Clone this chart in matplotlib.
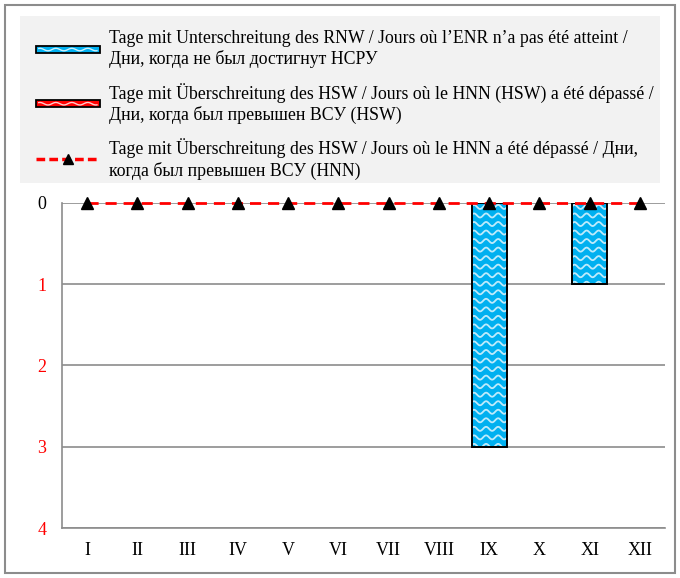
import matplotlib.pyplot as plt
import matplotlib.patches as mpatches
from matplotlib.lines import Line2D
from matplotlib.legend_handler import HandlerBase
import numpy as np

# Data
months = ['I', 'II', 'III', 'IV', 'V', 'VI', 'VII', 'VIII', 'IX', 'X', 'XI', 'XII']
rnw_days = [0, 0, 0, 0, 0, 0, 0, 0, 3, 0, 1, 0]
hsw_days = [0, 0, 0, 0, 0, 0, 0, 0, 0, 0, 0, 0]
hnn_days = [0, 0, 0, 0, 0, 0, 0, 0, 0, 0, 0, 0]
y_ticks = [0, 1, 2, 3, 4]

labels = [
    'Tage mit Unterschreitung des RNW / Jours où l\u2019ENR n\u2019a pas été atteint /\n'
    'Дни, когда не был достигнут НСРУ',
    'Tage mit Überschreitung des HSW / Jours où le HNN (HSW) a été dépassé /\n'
    'Дни, когда был превышен ВСУ (HSW)',
    'Tage mit Überschreitung des HSW / Jours où le HNN a été dépassé / Дни,\n'
    'когда был превышен ВСУ (HNN)',
]

BLUE = '#00B0F0'
RED = '#FF0000'
GRID = '#8C8C8C'
W, H = 680, 578

plt.rcParams['font.family'] = ['Liberation Serif', 'DejaVu Serif']


class WavyHandler(HandlerBase):
    def create_artists(self, legend, orig, xd, yd, w, h, fontsize, trans):
        rect = mpatches.Rectangle((-xd, -yd + h * 0.2), w, h * 0.6,
                                  facecolor=orig.get_facecolor(),
                                  edgecolor='black', lw=1.3, transform=trans)
        xs = np.linspace(-xd + 2, -xd + w - 2, 80)
        ys = -yd + h * 0.5 + h * 0.1 * np.sin((xs + xd) / w * 2 * np.pi * 4)
        wave = Line2D(xs, ys, color='white', lw=1.0, alpha=0.8, transform=trans)
        return [rect, wave]


def wavy_bar(ax, x, height, width, color):
    if height <= 0:
        return
    ax.bar(x, height, width=width, color=color, lw=0, zorder=3)
    clip = mpatches.Rectangle((x - width / 2, 0), width, height, transform=ax.transData)
    xs = np.linspace(x - width / 2, x + width / 2, 60)
    for y0 in np.arange(0.05, height, 0.105):
        ys = y0 + 0.025 * np.sin((xs - x) / 0.24 * 2 * np.pi)
        ln, = ax.plot(xs, ys, color='white', lw=1.3, alpha=0.75, zorder=3.5)
        ln.set_clip_path(clip)
    ax.bar(x, height, width=width, fill=False, edgecolor='black', lw=1.4, zorder=4)


fig = plt.figure(figsize=(6.8, 5.78), dpi=100)
ax = fig.add_axes([0.091, 0.0865, 0.887, 0.5625])

x = np.arange(len(months))
for xi, v in zip(x, rnw_days):
    wavy_bar(ax, xi, v, 0.7, BLUE)
for xi, v in zip(x, hsw_days):
    wavy_bar(ax, xi, v, 0.7, RED)
ax.plot(x, hnn_days, color=RED, lw=2, ls=(0, (4, 2.5)), marker='^',
        markersize=8, markerfacecolor='black', markeredgecolor='black',
        clip_on=False, zorder=5)

ax.set_xlim(-0.5, len(months) - 0.5)
ax.set_ylim(4, 0)
ax.set_yticks(y_ticks)
ax.set_xticks(x)
ax.set_xticklabels(months, fontsize=13)
ax.set_yticklabels([str(t) for t in y_ticks], fontsize=13)
for i, lab in enumerate(ax.get_yticklabels()):
    lab.set_color('black' if i == 0 else RED)
ax.tick_params(axis='y', length=0, pad=11)
ax.tick_params(axis='x', length=0, pad=10)
ax.grid(axis='y', color=GRID, lw=1.2, zorder=0)
for s in ['top', 'right']:
    ax.spines[s].set_visible(False)
ax.spines['left'].set_color(GRID)
ax.spines['bottom'].set_color(GRID)
ax.spines['left'].set_linewidth(1.2)
ax.spines['bottom'].set_linewidth(1.2)

# Legend background
fig.patches.append(mpatches.Rectangle((20 / W, 1 - 183 / H), 640 / W, 167 / H,
                                      transform=fig.transFigure,
                                      facecolor='#F2F2F2', edgecolor='none', zorder=0))

# Legend
h1 = mpatches.Patch(facecolor=BLUE)
h2 = mpatches.Patch(facecolor=RED)
h3 = Line2D([], [], color=RED, lw=2.5, ls=(0, (2.5, 1.2)), marker='^',
            markersize=7, markerfacecolor='black', markeredgecolor='black')
leg = fig.legend([h1, h2, h3], labels, loc='upper left',
                 bbox_to_anchor=(36 / W, 1 - 30 / H),
                 handler_map={mpatches.Patch: WavyHandler()},
                 fontsize=12.75, frameon=False, borderaxespad=0, borderpad=0,
                 handlelength=3.6, handletextpad=0.5, labelspacing=0.8)
for t in leg.get_texts():
    t.set_linespacing(1.25)

# Outer border
fig.patches.append(mpatches.Rectangle((0.008, 0.008), 0.984, 0.984,
                                      transform=fig.transFigure, fill=False,
                                      edgecolor=GRID, lw=1.5))

plt.savefig('out.png', dpi=100)
